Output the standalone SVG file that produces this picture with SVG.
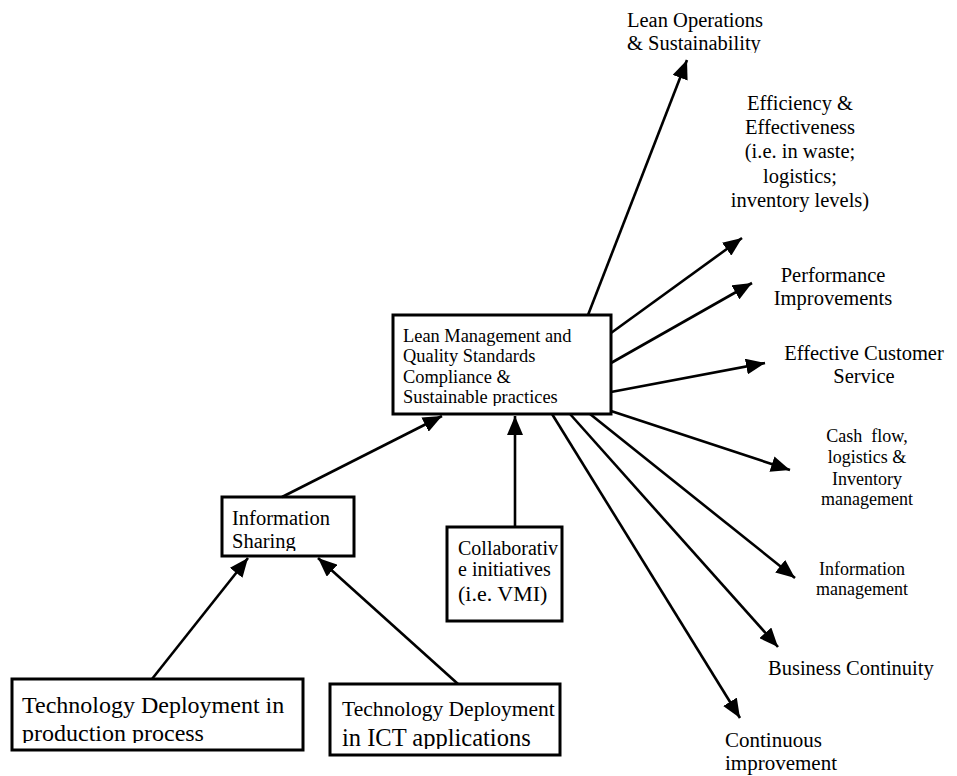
<svg xmlns="http://www.w3.org/2000/svg" width="957" height="776" viewBox="0 0 957 776">
  <style>
    text { font-family: "Liberation Serif", "Times New Roman", serif; fill: #000; }
    .box { fill: #fff; stroke: #000; stroke-width: 3; }
    .conn { stroke: #000; stroke-width: 2.6; fill: none; marker-end: url(#arrow); }
    .mid { text-anchor: middle; }
  </style>
  <defs>
    <marker id="arrow" markerUnits="userSpaceOnUse" markerWidth="19" markerHeight="16" refX="19" refY="8" orient="auto">
      <path d="M0,0 L19,8 L0,16 z" fill="#000"/>
    </marker>
    <clipPath id="clipMain"><rect x="395" y="317" width="214" height="89"/></clipPath>
    <clipPath id="clipInfo"><rect x="224" y="499" width="128" height="52"/></clipPath>
    <clipPath id="clipTechProd"><rect x="14" y="681" width="287" height="62"/></clipPath>
    <clipPath id="clipTechIct"><rect x="332" y="686" width="226" height="63"/></clipPath>
    <clipPath id="clipLeanOps"><rect x="600" y="0" width="200" height="53"/></clipPath>
  </defs>

  <rect width="957" height="776" fill="#fff"/>

  <!-- central node -->
  <g id="lean-management">
    <rect class="box" x="393" y="315" width="218" height="99"/>
    <g clip-path="url(#clipMain)" font-size="18.4">
      <text x="403" y="342">Lean Management and</text>
      <text x="403" y="362">Quality Standards</text>
      <text x="403" y="383">Compliance &amp;</text>
      <text x="403" y="403">Sustainable practices</text>
    </g>
  </g>

  <g id="information-sharing">
    <rect class="box" x="222" y="497" width="132" height="59"/>
    <g clip-path="url(#clipInfo)" font-size="20.5">
      <text x="232" y="525">Information</text>
      <text x="232" y="548">Sharing</text>
    </g>
  </g>

  <g id="collaborative-initiatives">
    <rect class="box" x="447" y="527" width="115" height="94"/>
    <text x="458" y="555" font-size="20">Collaborativ</text>
    <text x="458" y="576" font-size="20">e initiatives</text>
    <text x="458" y="601" font-size="22">(i.e. VMI)</text>
  </g>

  <g id="tech-production">
    <rect class="box" x="12" y="679" width="291" height="71"/>
    <g clip-path="url(#clipTechProd)" font-size="24">
      <text x="22" y="713">Technology Deployment in</text>
      <text x="22" y="741">production process</text>
    </g>
  </g>

  <g id="tech-ict">
    <rect class="box" x="330" y="684" width="230" height="71"/>
    <g clip-path="url(#clipTechIct)">
      <text x="342" y="716" font-size="21.5">Technology Deployment</text>
      <text x="342" y="746" font-size="24.5">in ICT applications</text>
    </g>
  </g>

  <!-- outcome labels -->
  <g id="lean-operations" clip-path="url(#clipLeanOps)" font-size="20.5">
    <text x="627" y="27">Lean Operations</text>
    <text x="627" y="50">&amp; Sustainability</text>
  </g>

  <g id="efficiency" font-size="20.5">
    <text class="mid" x="800" y="110">Efficiency &amp;</text>
    <text class="mid" x="800" y="134">Effectiveness</text>
    <text class="mid" x="800" y="158">(i.e. in waste;</text>
    <text class="mid" x="800" y="183">logistics;</text>
    <text class="mid" x="800" y="207">inventory levels)</text>
  </g>

  <g id="performance" font-size="20.5">
    <text class="mid" x="833" y="282">Performance</text>
    <text class="mid" x="833" y="305">Improvements</text>
  </g>

  <g id="customer-service" font-size="20.5">
    <text class="mid" x="864" y="360">Effective Customer</text>
    <text class="mid" x="864" y="383">Service</text>
  </g>

  <g id="cash-flow" font-size="18">
    <text class="mid" x="867" y="442" xml:space="preserve">Cash  flow,</text>
    <text class="mid" x="867" y="463">logistics &amp;</text>
    <text class="mid" x="867" y="485">Inventory</text>
    <text class="mid" x="867" y="505">management</text>
  </g>

  <g id="information-management" font-size="18">
    <text class="mid" x="862" y="575">Information</text>
    <text class="mid" x="862" y="595">management</text>
  </g>

  <g id="business-continuity" font-size="20.5">
    <text x="768" y="675">Business Continuity</text>
  </g>

  <g id="continuous-improvement" font-size="21">
    <text x="725" y="747">Continuous</text>
    <text x="725" y="770">improvement</text>
  </g>

  <!-- connectors -->
  <g id="connectors">
    <line class="conn" x1="588" y1="315" x2="687" y2="60"/>
    <line class="conn" x1="611" y1="333" x2="742" y2="238"/>
    <line class="conn" x1="611" y1="363" x2="752" y2="283"/>
    <line class="conn" x1="611" y1="392" x2="765" y2="363"/>
    <line class="conn" x1="611" y1="411" x2="790" y2="470"/>
    <line class="conn" x1="590" y1="414" x2="795" y2="578"/>
    <line class="conn" x1="570" y1="414" x2="778" y2="647"/>
    <line class="conn" x1="552" y1="414" x2="740" y2="718"/>
    <line class="conn" x1="282" y1="497" x2="442" y2="416"/>
    <line class="conn" x1="515" y1="527" x2="515" y2="416"/>
    <line class="conn" x1="152" y1="679" x2="248" y2="558"/>
    <line class="conn" x1="458" y1="684" x2="318" y2="558"/>
  </g>
</svg>
